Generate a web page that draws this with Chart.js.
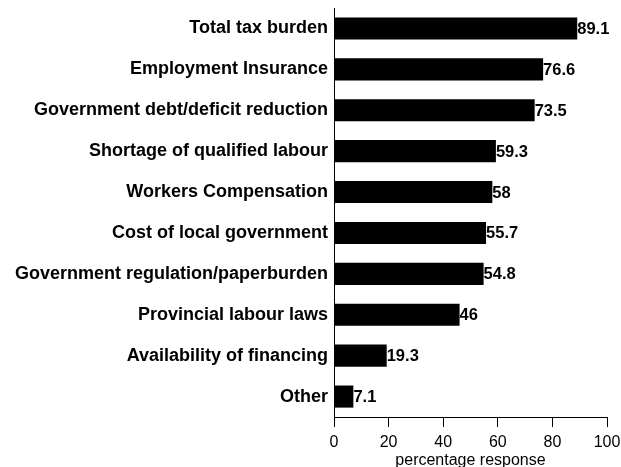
<!DOCTYPE html>
<html>
<head>
<meta charset="utf-8">
<script src="https://cdn.jsdelivr.net/npm/chart.js@4"></script>
<style>
  html, body { margin: 0; padding: 0; background: #fff; }
  #wrap { width: 621px; height: 467px; }
</style>
</head>
<body>
<div id="wrap"><canvas id="chart"></canvas></div>
<script>
// Survey categories and share of responses
const categories = [
  'Total tax burden',
  'Employment Insurance',
  'Government debt/deficit reduction',
  'Shortage of qualified labour',
  'Workers Compensation',
  'Cost of local government',
  'Government regulation/paperburden',
  'Provincial labour laws',
  'Availability of financing',
  'Other'
];
const responses = [89.1, 76.6, 73.5, 59.3, 58, 55.7, 54.8, 46, 19.3, 7.1];
const axisTicks = [0, 20, 40, 60, 80, 100];

const FONT = '"Liberation Sans", Arial, sans-serif';

// --- value labels at the end of each bar ---
const barValues = {
  id: 'barValues',
  afterDatasetsDraw(chart) {
    const ctx = chart.ctx;
    const meta = chart.getDatasetMeta(0);
    ctx.save();
    ctx.font = 'bold 16.5px ' + FONT;
    ctx.fillStyle = '#000';
    ctx.textAlign = 'left';
    ctx.textBaseline = 'middle';
    meta.data.forEach((bar, i) => {
      ctx.fillText(String(responses[i]), bar.x, bar.y + 1);
    });
    ctx.restore();
  }
};

new Chart(document.getElementById('chart'), {
  type: 'bar',
  data: {
    labels: categories,
    datasets: [{
      data: responses,
      backgroundColor: '#000',
      borderWidth: 0,
      categoryPercentage: 1,
      barPercentage: 0.54
    }]
  },
  options: {
    indexAxis: 'y',
    responsive: true,
    maintainAspectRatio: false,
    animation: false,
    layout: { padding: { top: 8, right: 14, bottom: 0, left: 0 } },
    plugins: {
      legend: { display: false },
      tooltip: { enabled: false }
    },
    scales: {
      x: {
        min: 0,
        max: 100,
        afterBuildTicks: s => { s.ticks = axisTicks.map(v => ({ value: v })); },
        grid: { drawOnChartArea: false, tickLength: 10, color: '#000' },
        border: { color: '#000', width: 1 },
        ticks: { color: '#000', font: { family: FONT, size: 16 }, padding: 6, maxRotation: 0 },
        title: {
          display: true,
          text: 'percentage response',
          color: '#000',
          font: { family: FONT, size: 16 },
          padding: { top: 0, bottom: -3 }
        },
        afterFit: s => { s.height = 50; s.paddingLeft = 0; s.paddingRight = 0; }
      },
      y: {
        grid: { display: false },
        border: { color: '#000', width: 1 },
        ticks: { color: '#000', font: { family: FONT, size: 18, weight: 'bold' }, padding: -2 },
        afterFit: s => { s.width = 334; s.paddingTop = 0; s.paddingBottom = 0; }
      }
    }
  },
  plugins: [barValues]
});
</script>
</body>
</html>
